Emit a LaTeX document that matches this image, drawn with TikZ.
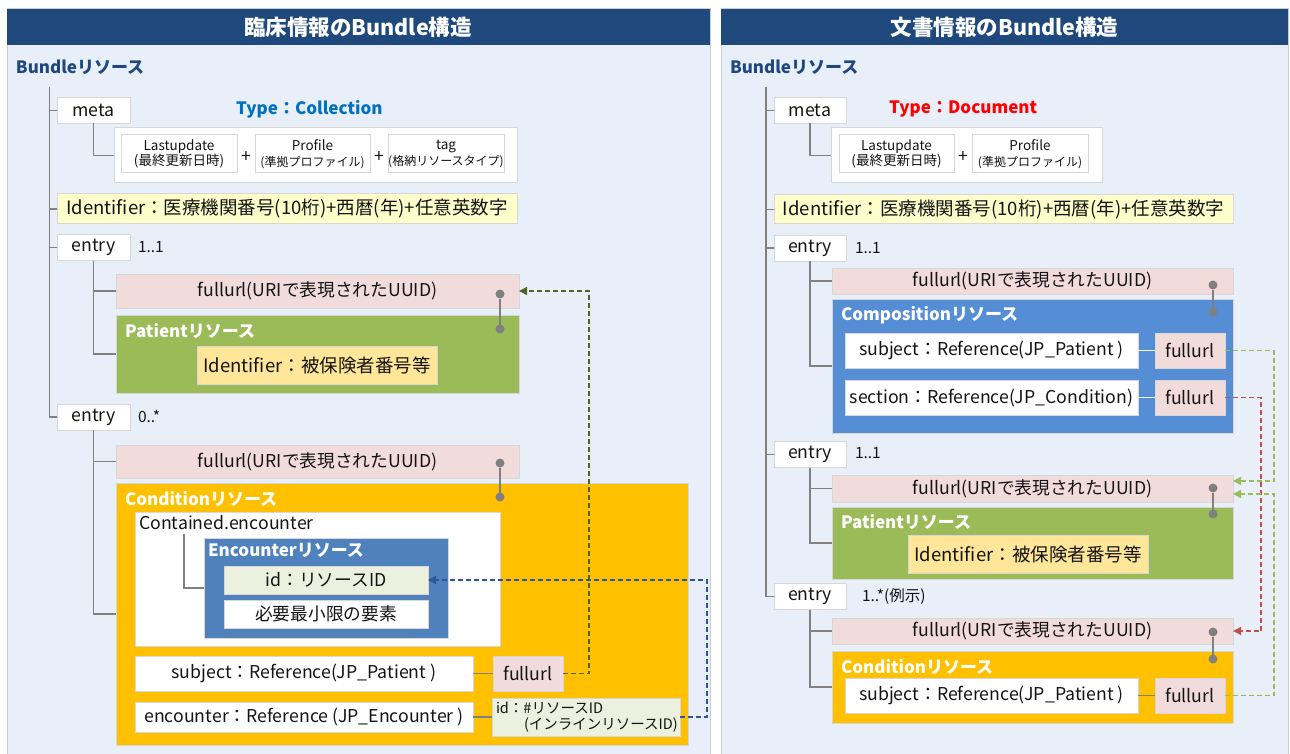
\documentclass[tikz,border=0pt]{standalone}
\usepackage{fontspec}
\setmainfont{Noto Sans CJK JP}
\usetikzlibrary{arrows.meta}
\newcommand\szL{\fontsize{21.5}{24}\selectfont}
\newcommand\szM{\fontsize{17.7}{20}\selectfont}
\newcommand\szT{\fontsize{17}{20}\selectfont}
\newcommand\szI{\fontsize{18.5}{21}\selectfont}
\newcommand\szS{\fontsize{15.5}{18}\selectfont}
\newcommand\szXS{\fontsize{13.5}{15.5}\selectfont}
\newcommand\szXXS{\fontsize{12}{15.5}\selectfont}
\definecolor{hdr}{RGB}{31,73,125}
\definecolor{panelbg}{RGB}{232,239,248}
\definecolor{panelline}{RGB}{200,205,212}
\definecolor{bline}{RGB}{215,215,215}
\definecolor{pinkc}{RGB}{242,220,219}
\definecolor{greenc}{RGB}{155,187,89}
\definecolor{ylw}{RGB}{255,255,204}
\definecolor{ylw2}{RGB}{255,230,153}
\definecolor{orangec}{RGB}{255,192,0}
\definecolor{encc}{RGB}{79,129,189}
\definecolor{compc}{RGB}{85,142,213}
\definecolor{idc}{RGB}{235,241,222}
\definecolor{treec}{RGB}{128,128,128}
\definecolor{typeb}{RGB}{0,112,192}
\definecolor{typer}{RGB}{255,0,0}
\definecolor{dgreen}{RGB}{79,98,40}
\definecolor{dblue}{RGB}{47,85,151}
\definecolor{lgreen}{RGB}{155,187,89}
\definecolor{dred}{RGB}{192,80,77}
\definecolor{txt}{RGB}{20,20,20}
\begin{document}
\begin{tikzpicture}[x=1pt,y=-1pt,
  every node/.style={inner sep=0pt,outer sep=0pt,text=txt},
  sz/.style 2 args={minimum width=#1,minimum height=#2},
  wbox/.style={draw=bline,line width=1pt,fill=white,font=\szM},
  pbox/.style={draw=bline,line width=1pt,fill=pinkc,font=\szM},
  ybox/.style={draw=bline,line width=1pt,fill=ylw,font=\szI},
  y2box/.style={draw=bline,line width=1pt,fill=ylw2,font=\szI},
  gbox/.style={draw=bline,line width=1pt,fill=greenc},
  obox/.style={draw=bline,line width=1pt,fill=orangec},
  ebox/.style={draw=bline,line width=1pt,fill=encc},
  cbox/.style={draw=bline,line width=1pt,fill=compc},
  ibox/.style={draw=bline,line width=1pt,fill=idc,font=\szM},
  sbox/.style={draw=bline,line width=1pt,fill=white,font=\szXS,align=center},
  restitle/.style={anchor=west,font=\szT\bfseries,text=white},
  hdrtitle/.style={font=\szL\bfseries,text=white},
  bundle/.style={anchor=west,font=\szT\bfseries,text=hdr},
  card/.style={anchor=west,font=\szS},
  tree/.style={draw=treec,line width=1.5pt},
  dotn/.style={circle,fill=treec,minimum size=9pt},
  dotline/.style={draw=treec,line width=1.5pt},
  dsh/.style={line width=1.5pt,dash pattern=on 5pt off 3pt},
  tip/.style={-{Triangle[length=8pt,width=8pt]}}
]
\useasboundingbox (0,0) rectangle (1290,754);
\fill[white] (0,0) rectangle (1290,754);
% ================= LEFT PANEL =================
\filldraw[fill=panelbg,draw=panelline,line width=1pt] (7,9) rectangle (710,760);
\fill[hdr] (7,9) rectangle (710,45);
\node[hdrtitle] (tL) at (358,27) {臨床情報のBundle構造};
\node[bundle] (bL) at (16,67) {Bundleリソース};
\coordinate (L0) at (49.5,87);

\node[wbox,sz={73}{26}] (metaL) at (93.5,110.5) {meta};
\node[anchor=west,font=\szT\bfseries,text=typeb] (typeL) at (236,109) {Type：Collection};
\node[wbox,sz={403}{55}] (grpL) at (315.5,155.5) {};
\node[sbox,sz={116}{38}] (luL) at (179,154) {Lastupdate\\(最終更新日時)};
\node[font=\szM] (plL1) at (246,157) {+};
\node[sbox,sz={115}{38}] (prL) at (312.5,154) {Profile\\{\szXXS(準拠プロファイル)}};
\node[font=\szM] (plL2) at (379,157) {+};
\node[sbox,sz={116}{38}] (tagL) at (446,154) {tag\\{\szXXS(格納リソースタイプ)}};
\node[ybox,sz={460}{30}] (idL) at (287,209) {Identifier：医療機関番号(10桁)+西暦(年)+任意英数字};

\node[wbox,sz={73}{26}] (e1L) at (93.5,247.5) {entry};
\node[card] (c1L) at (138,247) {1..1};
\node[pbox,sz={403}{34}] (fu1L) at (317.5,291) {fullurl(URIで表現されたUUID)};
\node[gbox,sz={403}{78}] (patL) at (317.5,354) {};
\node[restitle] (patLt) at (125,331) {Patientリソース};
\node[y2box,sz={240}{38}] (pidL) at (317,365) {Identifier：被保険者番号等};
\node[dotn] (d1L) at (500,294) {};
\node[dotn] (d2L) at (500,329) {};
\draw[dotline] (d1L) -- (d2L);

\node[wbox,sz={73}{26}] (e2L) at (93.5,417) {entry};
\node[card] (c2L) at (138,416) {0..*};
\node[pbox,sz={403}{33}] (fu2L) at (317.5,461.5) {fullurl(URIで表現されたUUID)};
\node[obox,sz={572}{262}] (condL) at (402,614) {};
\node[restitle] (condLt) at (125,499) {Conditionリソース};
\node[dotn] (d3L) at (500,463) {};
\node[dotn] (d4L) at (500,497) {};
\draw[dotline] (d3L) -- (d4L);

\node[wbox,sz={365}{134}] (contL) at (317.5,579) {};
\node[anchor=west,font=\szM] (contLt) at (139,523) {Contained.encounter};
\node[ebox,sz={244}{100}] (encL) at (326,588) {};
\node[restitle] (encLt) at (208,550) {Encounterリソース};
\node[ibox,sz={204}{28}] (eidL) at (326,580) {id：リソースID};
\node[wbox,sz={204}{28}] (eminL) at (326,614) {必要最小限の要素};
\coordinate (ctx) at (184,534);
\draw[tree] (ctx) |- (encL.west);

\node[wbox,sz={338}{35}] (subjL) at (304,673.5) {subject：Reference(JP\_Patient )};
\node[pbox,sz={70}{35}] (fusL) at (528,673.5) {fullurl};
\node[wbox,sz={338}{30}] (encrL) at (304,717) {encounter：Reference (JP\_Encounter )};
\node[ibox,sz={188}{38},text width=180pt,align=left,font=\fontsize{14.5}{16.5}\selectfont] (idhL) at (586,717) {id：\#リソースID\\\hspace*{28pt}(インラインリソースID)};
\draw[tree] (subjL.east) -- (fusL.west);
\draw[tree] (encrL.east) -- (idhL.west);

% tree lines left
\draw[tree] (L0) |- (metaL.west);
\draw[tree] (L0) |- (idL.west);
\draw[tree] (L0) |- (e1L.west);
\draw[tree] (L0) |- (e2L.west);
\draw[tree] (metaL.south) |- (grpL.west);
\draw[tree] (e1L.south) |- (fu1L.west);
\draw[tree] (e1L.south) |- (patL.west);
\draw[tree] (e2L.south) |- (fu2L.west);
\draw[tree] (e2L.south) |- (condL.west);

% dashed references left
\coordinate (gxL) at (589,0);
\coordinate (bxL) at (707,0);
\draw[dsh,draw=dgreen,tip,dgreen] (fusL.east) -- (fusL.east -| gxL) |- (fu1L.east);
\draw[dsh,draw=dblue,tip,dblue] (idhL.east) -- (idhL.east -| bxL) |- (eidL.east);

% ================= RIGHT PANEL =================
\filldraw[fill=panelbg,draw=panelline,line width=1pt] (721,9) rectangle (1288,760);
\fill[hdr] (721,9) rectangle (1288,45);
\node[hdrtitle] (tR) at (1004.5,27) {文書情報のBundle構造};
\node[bundle] (bR) at (730,67) {Bundleリソース};
\coordinate (R0) at (766,87);

\node[wbox,sz={72}{26}] (metaR) at (810,110.5) {meta};
\node[anchor=west,font=\szT\bfseries,text=typer] (typeR) at (889,109) {Type：Document};
\node[wbox,sz={271}{55}] (grpR) at (966.5,155.5) {};
\node[sbox,sz={115}{38}] (luR) at (896.5,154) {Lastupdate\\(最終更新日時)};
\node[font=\szM] (plR1) at (963,157) {+};
\node[sbox,sz={116}{38}] (prR) at (1030,154) {Profile\\{\szXXS(準拠プロファイル)}};
\node[ybox,sz={459}{29}] (idR) at (1003.5,209.5) {Identifier：医療機関番号(10桁)+西暦(年)+任意英数字};

\node[wbox,sz={72}{26}] (e1R) at (810,248) {entry};
\node[card] (c1R) at (855,248) {1..1};
\node[pbox,sz={401}{26}] (fu1R) at (1032.5,281) {fullurl(URIで表現されたUUID)};
\node[cbox,sz={401}{134}] (compR) at (1032.5,366) {};
\node[restitle] (compRt) at (841,315) {Compositionリソース};
\node[dotn] (d1R) at (1213,285) {};
\node[dotn] (d2R) at (1213,312) {};
\draw[dotline] (d1R) -- (d2R);
\node[wbox,sz={293}{35}] (subjR) at (991.5,350.5) {subject：Reference(JP\_Patient )};
\node[pbox,sz={70}{35}] (fAR) at (1190,350.5) {fullurl};
\node[wbox,sz={293}{35}] (secR) at (991.5,397.5) {section：Reference(JP\_Condition)};
\node[pbox,sz={70}{35}] (fBR) at (1190,397.5) {fullurl};
\draw[draw=white,line width=1.5pt] (subjR.east) -- (fAR.west);
\draw[draw=white,line width=1.5pt] (secR.east) -- (fBR.west);

\node[wbox,sz={72}{26}] (e2R) at (810,454.5) {entry};
\node[card] (c2R) at (855,453) {1..1};
\node[pbox,sz={401}{27}] (fu2R) at (1032.5,488.5) {fullurl(URIで表現されたUUID)};
\node[gbox,sz={401}{72}] (patR) at (1032.5,543) {};
\node[restitle] (patRt) at (841,522) {Patientリソース};
\node[y2box,sz={240}{38}] (pidR) at (1028,554) {Identifier：被保険者番号等};
\node[dotn] (d3R) at (1213,488) {};
\node[dotn] (d4R) at (1213,514) {};
\draw[dotline] (d3R) -- (d4R);

\node[wbox,sz={72}{26}] (e3R) at (810,596.5) {entry};
\node[card] (c3R) at (862,597) {1..*(例示)};
\node[pbox,sz={401}{26}] (fu3R) at (1032.5,631) {fullurl(URIで表現されたUUID)};
\node[obox,sz={401}{72}] (condR) at (1032.5,687) {};
\node[restitle] (condRt) at (841,667) {Conditionリソース};
\node[dotn] (d5R) at (1213,632) {};
\node[dotn] (d6R) at (1213,659) {};
\draw[dotline] (d5R) -- (d6R);
\node[wbox,sz={293}{35}] (subjR2) at (991.5,695.5) {subject：Reference(JP\_Patient )};
\node[pbox,sz={70}{35}] (fCR) at (1190,695.5) {fullurl};
\draw[tree] (subjR2.east) -- (fCR.west);

% tree lines right
\draw[tree] (R0) |- (metaR.west);
\draw[tree] (R0) |- (idR.west);
\draw[tree] (R0) |- (e1R.west);
\draw[tree] (R0) |- (e2R.west);
\draw[tree] (R0) |- (e3R.west);
\draw[tree] (metaR.south) |- (grpR.west);
\draw[tree] (e1R.south) |- (fu1R.west);
\draw[tree] (e1R.south) |- (compR.west);
\draw[tree] (e2R.south) |- (fu2R.west);
\draw[tree] (e2R.south) |- (patR.west);
\draw[tree] (e3R.south) |- (fu3R.west);
\draw[tree] (e3R.south) |- (condR.west);

% dashed references right
\coordinate (gxR) at (1274,0);
\coordinate (rxR) at (1261,0);
\draw[dsh,draw=lgreen,tip,lgreen] (fAR.east) -- (fAR.east -| gxR) |- ([yshift=7.5pt]fu2R.east);
\draw[dsh,draw=dred,tip,dred] (fBR.east) -- (fBR.east -| rxR) |- (fu3R.east);
\draw[dsh,draw=lgreen,tip,lgreen] (fCR.east) -- (fCR.east -| gxR) |- ([yshift=-5.5pt]fu2R.east);
\end{tikzpicture}
\end{document}
